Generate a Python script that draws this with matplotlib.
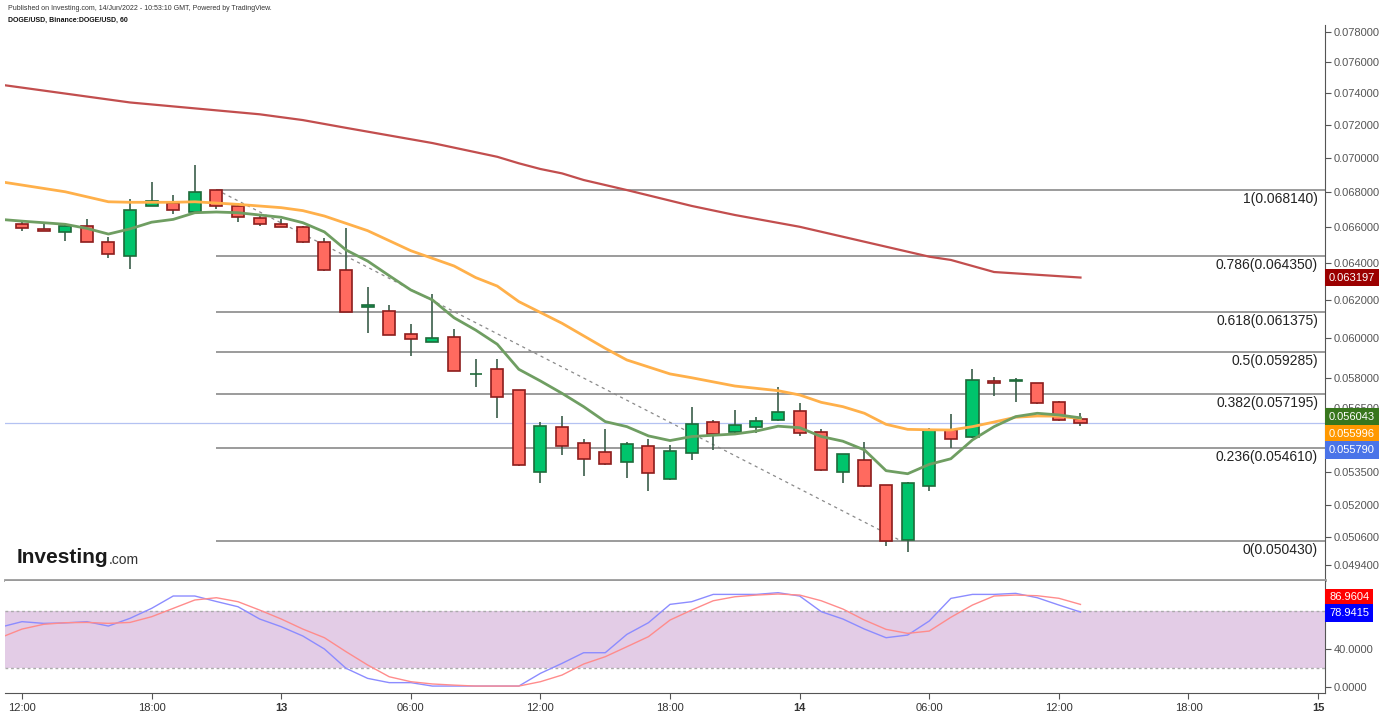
import matplotlib
matplotlib.use("Agg")
import matplotlib.pyplot as plt
import numpy as np
from matplotlib.ticker import FixedLocator, FixedFormatter, NullLocator

plt.rcParams['font.family'] = ['Liberation Sans', 'DejaVu Sans']

# hourly candles, hour 0 = 12 Jun 12:00
hours = np.arange(50)
opens = [0.06615, 0.06589, 0.06572, 0.06604, 0.06516, 0.06436, 0.06720, 0.06737, 0.06687, 0.06812,
         0.06720, 0.06649, 0.06616, 0.06599, 0.06516, 0.06361, 0.06161, 0.06142, 0.06021, 0.05981,
         0.06005, 0.05818, 0.05842, 0.05737, 0.05351, 0.05559, 0.05483, 0.05441, 0.05397, 0.05469,
         0.05316, 0.05436, 0.05583, 0.05538, 0.05562, 0.05593, 0.05635, 0.05535, 0.05352, 0.05405,
         0.05289, 0.05048, 0.05287, 0.05545, 0.05512, 0.05784, 0.05783, 0.05773, 0.05679, 0.05597]
highs = [0.06633, 0.06629, 0.06620, 0.06646, 0.06544, 0.06761, 0.06858, 0.06781, 0.06958, 0.06814,
         0.06735, 0.06672, 0.06643, 0.06605, 0.06536, 0.06594, 0.06271, 0.06173, 0.06073, 0.06232,
         0.06046, 0.05894, 0.05894, 0.05740, 0.05583, 0.05613, 0.05504, 0.05551, 0.05488, 0.05502,
         0.05476, 0.05656, 0.05594, 0.05642, 0.05608, 0.05754, 0.05676, 0.05551, 0.05433, 0.05490,
         0.05290, 0.05302, 0.05554, 0.05623, 0.05844, 0.05804, 0.05799, 0.05775, 0.05685, 0.05627]
lows = [0.06579, 0.06575, 0.06523, 0.06514, 0.06429, 0.06365, 0.06718, 0.06672, 0.06685, 0.06701,
        0.06629, 0.06607, 0.06597, 0.06511, 0.06358, 0.06134, 0.06025, 0.06014, 0.05911, 0.05979,
        0.05832, 0.05756, 0.05605, 0.05379, 0.05301, 0.05430, 0.05331, 0.05383, 0.05322, 0.05263,
        0.05315, 0.05405, 0.05452, 0.05527, 0.05533, 0.05591, 0.05519, 0.05355, 0.05301, 0.05282,
        0.05022, 0.04994, 0.05265, 0.05463, 0.05510, 0.05711, 0.05682, 0.05672, 0.05591, 0.05566]
closes = [0.06592, 0.06576, 0.06604, 0.06516, 0.06447, 0.06697, 0.06748, 0.06695, 0.06800, 0.06720,
          0.06655, 0.06616, 0.06599, 0.06516, 0.06361, 0.06135, 0.06173, 0.06016, 0.05996, 0.06001,
          0.05834, 0.05821, 0.05706, 0.05381, 0.05564, 0.05472, 0.05410, 0.05385, 0.05478, 0.05347,
          0.05446, 0.05573, 0.05528, 0.05568, 0.05588, 0.05631, 0.05534, 0.05357, 0.05432, 0.05284,
          0.05044, 0.05301, 0.05545, 0.05505, 0.05788, 0.05776, 0.05789, 0.05674, 0.05593, 0.05579]

# moving averages (read at points along the lines)
slow_h = [-1, 5, 11, 13, 15, 19, 22, 23, 24, 25, 26, 28, 31, 33, 36, 42, 43, 45, 49]
slow_v = [0.07456, 0.07343, 0.07269, 0.07233, 0.07185, 0.07092, 0.07009, 0.06970, 0.06936, 0.06910,
          0.06871, 0.06812, 0.06720, 0.06668, 0.06601, 0.06434, 0.06416, 0.06350, 0.06320]
mid_h = [-1, 2, 4, 5, 7, 8, 10, 12, 13, 14, 16, 18, 20, 21, 22, 23, 25, 27, 28, 30, 31, 33, 35, 36,
         37, 38, 39, 40, 41, 42, 43, 44, 45, 46, 47, 48, 49]
mid_v = [0.06861, 0.06802, 0.06744, 0.06741, 0.06741, 0.06744, 0.06729, 0.06710, 0.06693, 0.06662,
         0.06579, 0.06467, 0.06383, 0.06320, 0.06274, 0.06191, 0.06077, 0.05948, 0.05889, 0.05819,
         0.05800, 0.05759, 0.05736, 0.05715, 0.05679, 0.05658, 0.05626, 0.05573, 0.05549, 0.05547,
         0.05546, 0.05562, 0.05584, 0.05607, 0.05613, 0.05612, 0.05600]
fast_h = list(range(-1, 50))
fast_v = [0.06643, 0.06633, 0.06624, 0.06615, 0.06592, 0.06560, 0.06589, 0.06627, 0.06643, 0.06681,
          0.06685, 0.06681, 0.06668, 0.06655, 0.06624, 0.06572, 0.06471, 0.06410, 0.06330, 0.06253,
          0.06200, 0.06106, 0.06042, 0.05969, 0.05842, 0.05784, 0.05723, 0.05658, 0.05586, 0.05562,
          0.05518, 0.05496, 0.05515, 0.05521, 0.05527, 0.05541, 0.05564, 0.05557, 0.05515, 0.05493,
          0.05452, 0.05356, 0.05342, 0.05385, 0.05411, 0.05499, 0.05562, 0.05610, 0.05626, 0.05618,
          0.05604]

fib_ratios = ["1", "0.786", "0.618", "0.5", "0.382", "0.236", "0"]
fib_levels = [0.068140, 0.064350, 0.061375, 0.059285, 0.057195, 0.054610, 0.050430]

stoch_h = list(range(-1, 50))
stoch_k = [63, 68.8, 67, 67.5, 68.8, 64.2, 72.3, 82.8, 95.8, 95.8, 90, 84.5, 71.6, 63.5, 53.7, 40,
           19.7, 9.1, 4.6, 4.6, 1, 1, 1, 1, 1, 14.4, 24.9, 36.1, 36.1, 55.4, 67.7, 87, 89.8, 97.5,
           97.5, 97.5, 99.3, 95.8, 79.3, 71.6, 61, 51.9, 54.7, 69.5, 93.3, 97.5, 97.5, 98.6, 94,
           86.3, 78.9415]
stoch_d = [52, 61, 66, 67.7, 68, 67, 68, 74, 82.8, 91.6, 94, 89.8, 81, 71.6, 61, 51.9, 37.2, 23.2,
           10.8, 5.6, 3.2, 2, 1, 1, 1, 5.6, 12.6, 24.2, 31.9, 42.4, 53, 70.5, 81, 90.8, 95, 96.8,
           97.9, 96.8, 90.8, 82.1, 70.5, 60.7, 56.5, 58.9, 73.4, 86.3, 95.8, 96.8, 96.1, 93.4, 86.9604]

price_ticks = [0.078, 0.076, 0.074, 0.072, 0.070, 0.068, 0.066, 0.064, 0.062, 0.060, 0.058,
               0.0565, 0.0535, 0.052, 0.0506, 0.0494]
time_ticks = [0, 6, 12, 18, 24, 30, 36, 42, 48, 54, 60]
time_labels = ["12:00", "18:00", "13", "06:00", "12:00", "18:00", "14", "06:00", "12:00", "18:00", "15"]

W, H = 1386, 715
fig = plt.figure(figsize=(W / 100, H / 100), dpi=100)
ax = fig.add_axes([5 / W, 1 - 580 / H, 1320 / W, 555 / H])
ax2 = fig.add_axes([5 / W, 1 - 693 / H, 1320 / W, 112 / H])

xlim = (-0.787, 60.32)
tick_col = "#555555"

# --- price panel
ax.set_yscale("log")
ax.set_xlim(*xlim)
ax.set_ylim(0.04877, 0.07847)

up_col, up_edge = "#00c46c", "#1e6b3a"
dn_col, dn_edge = "#ff6a5f", "#8c1c1c"
for h, o, hi, lo, c in zip(hours, opens, highs, lows, closes):
    up = c >= o
    ax.vlines(h, lo, hi, color="#3b5e4a", lw=1.2, zorder=3)
    ax.bar(h, abs(c - o), bottom=min(o, c), width=0.56,
           color=up_col if up else dn_col, edgecolor=up_edge if up else dn_edge,
           lw=1.2, zorder=4)

ax.plot(slow_h, slow_v, color="#c24e4e", lw=1.6, zorder=5)
ax.plot(mid_h, mid_v, color="#ffb04a", lw=2, zorder=5)
ax.plot(fast_h, fast_v, color="#6f9e62", lw=2, zorder=5)

for r, lvl in zip(fib_ratios, fib_levels):
    ax.hlines(lvl, 9, xlim[1], color="#8a8a8a", lw=1.2, zorder=2)
    ax.annotate(f"{r}({lvl:.6f})", xy=(60, lvl), xytext=(0, -2), textcoords="offset pixels",
                ha="right", va="top", fontsize=10, color="#222222", zorder=6)

ax.plot([9, 40.7], [fib_levels[0], fib_levels[-1]], color="#8a8a8a", lw=0.9,
        ls=(0, (2.5, 3)), zorder=2)
ax.axhline(closes[-1], color="#b4c2f2", lw=0.9, zorder=1)

ax.yaxis.tick_right()
ax.yaxis.set_major_locator(FixedLocator(price_ticks))
ax.yaxis.set_major_formatter(FixedFormatter([f"{t:.6f}" for t in price_ticks]))
ax.yaxis.set_minor_locator(NullLocator())
ax.tick_params(axis="y", colors=tick_col, labelsize=8, length=4, width=0.8, pad=2)
ax.tick_params(axis="x", bottom=False, labelbottom=False)
for s in ["left", "top"]:
    ax.spines[s].set_visible(False)
ax.spines["right"].set_color(tick_col)
ax.spines["bottom"].set_color("#9a9a9a")
ax.spines["bottom"].set_linewidth(2)


def tag(a, y, text, color, dy=0):
    a.annotate(text, xy=(1.0, y), xycoords=("axes fraction", "data"), xytext=(4, dy),
               textcoords="offset pixels", ha="left", va="center", color="white", fontsize=8,
               bbox=dict(boxstyle="square,pad=0.35", fc=color, ec="none"),
               annotation_clip=False, zorder=10)


tag(ax, slow_v[-1], "0.063197", "#9b0000")
tag(ax, fast_v[-1], "0.056043", "#38761d", 1)
tag(ax, mid_v[-1], "0.055996", "#ff9800", -15)
tag(ax, closes[-1], "0.055790", "#4a74e8", -27)

# --- stochastic panel
ax2.set_xlim(*xlim)
ax2.set_ylim(-6.3, 111.6)
ax2.axhspan(20, 80, color="#e3cce6", lw=0, zorder=0)
ax2.axhline(80, color="#aaaaaa", lw=1, ls=(0, (2, 2)), zorder=1)
ax2.axhline(20, color="#aaaaaa", lw=1, ls=(0, (2, 2)), zorder=1)
ax2.plot(stoch_h, stoch_k, color="#8c8cff", lw=1, zorder=3)
ax2.plot(stoch_h, stoch_d, color="#ff8c8c", lw=1, zorder=3)

ax2.yaxis.tick_right()
ax2.set_yticks([0, 40])
ax2.set_yticklabels(["0.0000", "40.0000"])
ax2.tick_params(axis="y", colors=tick_col, labelsize=8, length=4, width=0.8, pad=2)
ax2.set_xticks(time_ticks)
ax2.set_xticklabels(time_labels)
ax2.tick_params(axis="x", colors=tick_col, labelcolor="#333333", labelsize=8, length=4,
                width=0.8, pad=3)
for lab in ax2.get_xticklabels():
    if ":" not in lab.get_text():
        lab.set_fontweight("bold")
for s in ["left", "top"]:
    ax2.spines[s].set_visible(False)
ax2.spines["right"].set_color(tick_col)
ax2.spines["bottom"].set_color(tick_col)

tag(ax2, 86.9604, "86.9604", "#ff0000", 7)
tag(ax2, 78.9415, "78.9415", "#0000ff", -1)

# --- header and logo
fig.text(8 / W, 1 - 8 / H, "Published on Investing.com, 14/Jun/2022 - 10:53:10 GMT, Powered by TradingView.",
         fontsize=5, color="#333333", va="center")
fig.text(8 / W, 1 - 20 / H, "DOGE/USD, Binance:DOGE/USD, 60", fontsize=5, fontweight="bold",
         color="#111111", va="center")
fig.text(17 / W, 1 - 563 / H, "Investing", fontsize=15, fontweight="bold", color="#1a1a1a",
         va="baseline")
fig.text(109 / W, 1 - 564 / H, ".com", fontsize=10, color="#333333", va="baseline")

fig.savefig("out.png", dpi=100)
